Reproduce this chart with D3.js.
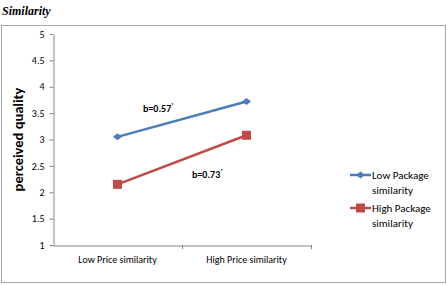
<!DOCTYPE html>
<html>
<head>
<meta charset="utf-8">
<script src="https://cdn.jsdelivr.net/npm/d3@7"></script>
<style>
body { margin: 0; background: #fff; }
</style>
</head>
<body>
<svg width="447" height="285"></svg>
<script>
const categories = ["Low Price similarity", "High Price similarity"]
const seriesNames = ["Low Package similarity", "High Package similarity"]
const lowPackage = [3.05, 3.72]
const highPackage = [2.15, 3.08]
const yTicks = [1, 1.5, 2, 2.5, 3, 3.5, 4, 4.5, 5]
const slopeLabels = ["b=0.57", "b=0.73"]

const svg = d3.select("svg")
const font = "Calibri, Carlito, 'Liberation Sans', Arial, sans-serif"

// heading
svg.append("text")
    .attr("x", 2).attr("y", 15)
    .attr("font-family", "'Liberation Serif', 'Times New Roman', serif")
    .attr("font-style", "italic").attr("font-weight", "bold")
    .attr("font-size", 12)
    .text("Similarity")

// chart border
svg.append("rect")
    .attr("x", 1.5).attr("y", 25.5)
    .attr("width", 444).attr("height", 257)
    .attr("fill", "none").attr("stroke", "#a6a6a6").attr("stroke-width", 1)

const x = d3.scaleBand().domain(categories).range([53, 311])
const y = d3.scaleLinear().domain([1, 5]).range([245, 34])

const yAxis = svg.append("g")
    .attr("transform", "translate(53.5,0)")
    .call(d3.axisLeft(y).tickValues(yTicks).tickSize(4).tickSizeOuter(0).tickFormat(d3.format("")))
yAxis.select(".domain").attr("stroke", "#868686")
yAxis.selectAll(".tick line").attr("stroke", "#868686")
yAxis.selectAll("text").attr("x", -9).attr("font-family", font).attr("font-size", 10).attr("fill", "#000")

const xAxis = svg.append("g")
    .attr("transform", "translate(0,245.5)")
    .call(d3.axisBottom(x).tickSize(0).tickSizeOuter(0))
xAxis.select(".domain").attr("stroke", "#868686")
xAxis.selectAll(".tick line").remove()
xAxis.selectAll("text").attr("dy", 0).attr("y", 17)
    .attr("font-family", font).attr("font-size", 10).attr("fill", "#000")
// category boundary ticks
categories.forEach(c => {
    svg.append("line")
        .attr("x1", x(c) + x.bandwidth() + 0.5).attr("x2", x(c) + x.bandwidth() + 0.5)
        .attr("y1", 245).attr("y2", 249)
        .attr("stroke", "#868686")
})

// y title
svg.append("text")
    .attr("transform", "translate(23," + y(3) + ") rotate(-90)")
    .attr("text-anchor", "middle")
    .attr("font-family", font).attr("font-weight", "bold").attr("font-size", 14.5)
    .text("perceived quality")

const cx = c => x(c) + x.bandwidth() / 2
const line = d3.line().x((d, i) => cx(categories[i])).y(d => y(d))

const series = [
    { name: seriesNames[0], values: lowPackage, color: "#4a7ebb", marker: "diamond" },
    { name: seriesNames[1], values: highPackage, color: "#be4b48", marker: "square" }
]

function drawMarker(g, type, px, py, color) {
    if (type === "diamond") {
        g.append("path")
            .attr("d", "M-4.5,0L0,-3.5L4.5,0L0,3.5Z")
            .attr("transform", "translate(" + px + "," + py + ")")
            .attr("fill", color)
    } else {
        g.append("rect")
            .attr("x", px - 4.5).attr("y", py - 4.5)
            .attr("width", 9).attr("height", 9)
            .attr("fill", color)
    }
}

series.forEach(s => {
    svg.append("path")
        .attr("d", line(s.values))
        .attr("fill", "none").attr("stroke", s.color).attr("stroke-width", 2.5)
    s.values.forEach((v, i) => drawMarker(svg, s.marker, cx(categories[i]), y(v), s.color))
})

// slope annotations
const labelPos = [[143, 112], [192, 178]]
slopeLabels.forEach((t, i) => {
    const tx = svg.append("text")
        .attr("x", labelPos[i][0]).attr("y", labelPos[i][1])
        .attr("font-family", font).attr("font-weight", "bold").attr("font-size", 10)
        .text(t)
    tx.append("tspan").attr("font-size", 5).attr("dy", -5).text("*")
})

// legend
const legendY = [175, 208]
series.forEach((s, i) => {
    const ly = legendY[i]
    svg.append("line")
        .attr("x1", 350).attr("x2", 371).attr("y1", ly).attr("y2", ly)
        .attr("stroke", s.color).attr("stroke-width", 2.5)
    drawMarker(svg, s.marker, 360.5, ly, s.color)
    const words = s.name.split(" ")
    const lt = svg.append("text")
        .attr("x", 372).attr("y", ly + 4)
        .attr("font-family", font).attr("font-size", 11)
    lt.append("tspan").attr("x", 372).text(words.slice(0, 2).join(" "))
    lt.append("tspan").attr("x", 372).attr("dy", 14.5).text(words.slice(2).join(" "))
})
</script>
</body>
</html>
